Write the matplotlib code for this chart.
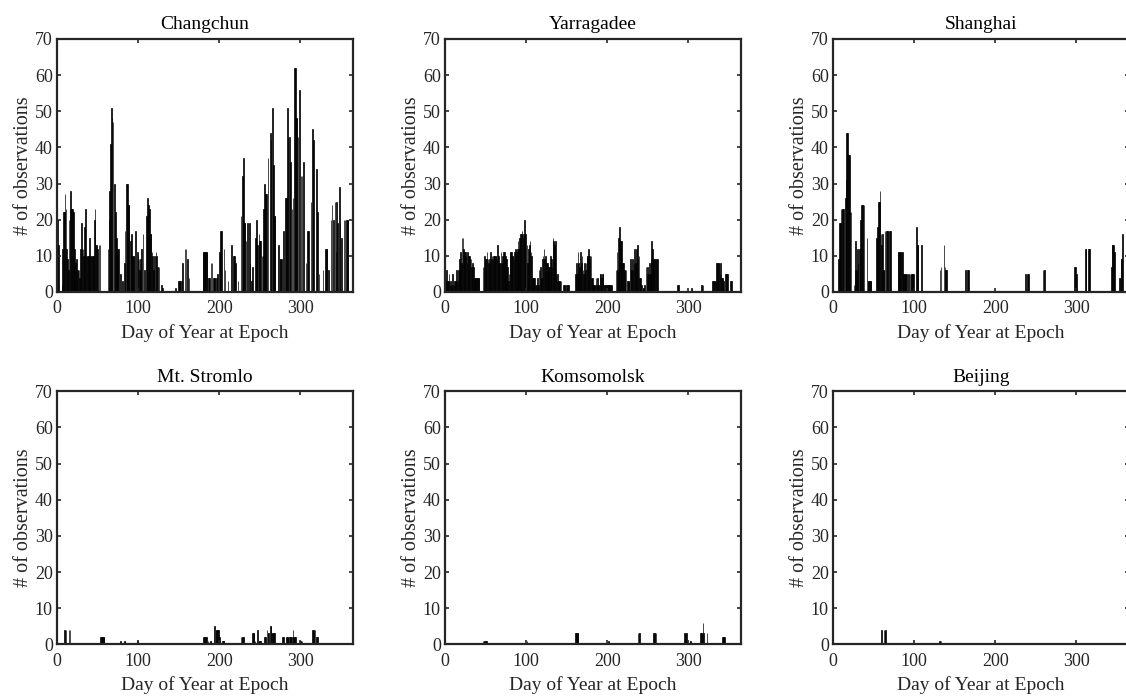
import matplotlib
matplotlib.use("Agg")
import matplotlib.pyplot as plt

plt.rcParams['font.family'] = ['Liberation Serif', 'DejaVu Serif']

# daily observation counts per station (day of year, count)
changchun_days = [1, 2, 6, 7, 8, 9, 10, 11, 12, 13, 14, 15, 16, 17, 18, 19, 20, 21, 22, 23, 24, 25, 26, 27, 28,
                  29, 30, 31, 32, 33, 34, 35, 36, 37, 38, 39, 40, 41, 42, 43, 44, 45, 46, 47, 48, 49, 50, 52, 53,
                  63, 64, 65, 66, 67, 68, 69, 71, 72, 73, 74, 75, 76, 78, 81, 83, 84, 86, 87, 88, 89, 91, 92, 93,
                  94, 95, 97, 99, 100, 101, 102, 103, 104, 106, 108, 110, 112, 113, 114, 115, 116, 117, 118, 119,
                  120, 122, 123, 124, 126, 129, 130, 146, 150, 151, 152, 154, 155, 158, 159, 161, 163,
                  180, 181, 182, 183, 184, 185, 187, 188, 190, 191, 193, 194, 195, 197, 198, 200, 202, 203, 206,
                  207, 211, 215, 218, 219, 220, 223, 227, 229, 230, 231, 232, 233, 235, 237, 238, 240, 241, 245,
                  246, 247, 249, 250, 251, 253, 254, 255, 256, 257, 258, 260, 263, 264, 266, 267, 268, 269, 273,
                  275, 276, 277, 279, 282, 283, 284, 285, 287, 288, 290, 291, 293, 294, 295, 296, 297, 299, 301,
                  302, 304, 307, 309, 310, 313, 315, 316, 320, 321, 323, 328, 331, 332, 333, 335, 338, 339, 341,
                  343, 344, 345, 346, 348, 349, 351, 354, 355, 357, 358, 359]
changchun_obs = [20, 13, 2, 12, 22, 22, 27, 23, 12, 9, 6, 20, 23, 28, 23, 23, 22, 9, 12, 8, 9, 6, 6, 6, 4,
                 12, 19, 12, 12, 10, 18, 23, 10, 10, 10, 10, 15, 10, 10, 10, 10, 10, 20, 23, 13, 13, 12, 13, 13,
                 12, 20, 28, 41, 51, 48, 47, 30, 22, 15, 12, 12, 12, 5, 3, 8, 17, 30, 30, 24, 24, 14, 16, 10,
                 10, 10, 17, 11, 10, 9, 6, 9, 12, 16, 6, 21, 26, 24, 23, 16, 16, 11, 10, 6,
                 10, 11, 10, 7, 7, 2, 1, 1, 3, 3, 3, 3, 8, 12, 12, 9, 4,
                 11, 11, 11, 11, 11, 11, 4, 4, 8, 8, 4, 4, 4, 4, 5, 11, 17, 17, 12,
                 6, 3, 13, 10, 10, 8, 3, 21, 32, 37, 19, 19, 14, 19, 19, 8, 3, 7, 15,
                 20, 13, 16, 14, 14, 10, 10, 23, 30, 27, 27, 37, 44, 42, 51, 35, 21, 21, 13,
                 9, 9, 9, 17, 26, 26, 51, 43, 43, 36, 23, 26, 62, 62, 48, 48, 43, 56, 32,
                 32, 36, 8, 17, 17, 25, 45, 42, 34, 22, 5, 6, 12, 12, 12, 6, 20, 24, 20,
                 25, 11, 25, 19, 29, 19, 15, 20, 20, 20, 20, 20]

yarragadee_days = [1, 2, 3, 4, 5, 6, 7, 8, 9, 10, 11, 12, 13, 14, 15, 16, 17, 18, 19, 20, 21, 22, 23, 24, 25,
                   26, 27, 28, 29, 30, 31, 32, 33, 34, 35, 36, 37, 38, 39, 40, 41, 42,
                   47, 48, 49, 50, 51, 52, 53, 54, 55, 56, 57, 58, 59, 60, 61, 62, 63, 64, 65, 66, 67, 68, 69,
                   70, 71, 72, 73, 74, 75, 76, 77, 78, 79, 80, 81, 82, 83, 84, 85, 86, 87, 88, 89, 90, 91, 92,
                   93, 94, 95, 96, 97, 98, 99, 100, 101, 102, 103, 104, 105, 106, 107, 108, 109, 110, 111, 112,
                   113, 114, 115, 116, 117, 118, 119, 120, 121, 122, 123, 124, 125, 126, 127, 128, 129, 130, 131,
                   132, 133, 134, 135, 136, 137, 138, 139, 140, 141, 142, 143, 146, 147, 148, 150, 151, 152,
                   161, 162, 163, 164, 165, 166, 167, 168, 169, 170, 171, 172, 173, 174, 175, 176, 177, 178, 179,
                   180, 181, 182, 183, 184, 185, 186, 187, 188, 189, 190, 191, 192, 193, 194, 195, 196, 197, 198,
                   199, 200, 201, 202, 203, 204, 205, 211, 212, 213, 214, 215, 216, 217, 218, 219, 220, 221, 222,
                   223, 225, 226, 227, 229, 230, 231, 232, 233, 234, 235, 236, 237, 238, 239, 240, 241, 242, 244,
                   245, 246, 248, 249, 250, 251, 252, 253, 254, 255, 256, 257, 258, 259, 260, 261, 262,
                   287, 288, 304, 316, 317, 318, 330, 331, 332, 333, 334, 335, 336, 337, 338, 339, 340, 341, 342,
                   343, 346, 347, 348, 352, 353]
yarragadee_obs = [3, 6, 3, 3, 5, 2, 3, 2, 5, 2, 2, 3, 3, 6, 3, 3, 6, 9, 11, 8, 15, 15, 12, 11, 11,
                  10, 8, 11, 10, 10, 9, 9, 7, 8, 7, 4, 4, 4, 4, 4, 4, 4,
                  7, 7, 10, 9, 9, 11, 9, 8, 9, 11, 9, 10, 9, 10, 10, 10, 10, 9, 13, 10, 8, 8, 11,
                  8, 10, 11, 11, 9, 10, 9, 7, 3, 5, 11, 11, 11, 10, 10, 9, 11, 12, 11, 12, 14, 12, 15,
                  16, 16, 17, 15, 16, 20, 16, 1, 13, 8, 12, 13, 14, 11, 10, 4, 4, 4, 2, 2,
                  2, 4, 2, 6, 6, 7, 4, 9, 10, 12, 9, 10, 8, 8, 5, 7, 7, 10, 9,
                  7, 15, 14, 13, 14, 5, 3, 5, 3, 3, 3, 3, 2, 2, 2, 2, 2, 2,
                  5, 8, 5, 11, 8, 7, 11, 8, 10, 6, 5, 8, 6, 8, 10, 10, 12, 10, 9,
                  10, 4, 4, 2, 2, 2, 4, 2, 4, 2, 2, 5, 5, 4, 5, 5, 2, 2, 2,
                  2, 2, 2, 2, 2, 2, 2, 6, 11, 6, 15, 18, 14, 14, 14, 8, 8, 6, 6,
                  6, 3, 3, 3, 9, 6, 9, 6, 8, 12, 8, 12, 13, 9, 10, 4, 4, 2, 1,
                  1, 2, 7, 5, 7, 5, 8, 5, 9, 14, 12, 9, 9, 9, 9, 9, 9,
                  2, 2, 1, 2, 2, 2, 3, 3, 3, 3, 3, 8, 8, 8, 8, 5, 8, 4, 4,
                  3, 5, 5, 5, 3, 3]

shanghai_days = [7, 8, 9, 10, 11, 12, 13, 15, 16, 17, 18, 19, 20, 21, 22, 26, 27, 28, 29, 30, 31, 33, 34, 35,
                 36, 37, 38, 42, 43, 44, 45, 46, 47, 54, 55, 56, 57, 58, 59, 60, 61, 62, 63, 64, 66, 67, 68,
                 70, 71, 80, 81, 82, 83, 84, 85, 86, 87, 88, 89, 91, 93, 95, 96, 97, 98, 99, 103, 104, 105,
                 109, 132, 133, 137, 138, 139, 140, 163, 166, 167, 237, 240, 241, 259, 260, 261, 298, 299, 300,
                 301, 311, 312, 315, 316, 343, 344, 345, 346, 347, 353, 354, 355, 356, 357]
shanghai_obs = [9, 19, 19, 23, 23, 23, 23, 26, 31, 44, 44, 38, 38, 22, 22, 2, 6, 14, 6, 12, 8, 12, 20, 24,
                24, 24, 24, 15, 3, 3, 3, 3, 3, 15, 18, 25, 25, 28, 16, 13, 16, 6, 6, 17, 17, 17, 17,
                17, 17, 11, 11, 11, 11, 11, 11, 11, 5, 5, 5, 5, 5, 5, 5, 5, 5, 5, 18, 13, 13,
                13, 6, 7, 13, 7, 6, 6, 6, 6, 6, 5, 5, 5, 6, 6, 6, 7, 7, 5,
                1, 12, 12, 12, 12, 7, 13, 13, 13, 11, 4, 4, 9, 9, 16]

stromlo_days = [9, 10, 11, 15, 16, 54, 55, 56, 57, 58, 78, 83, 84, 99, 100, 181, 182, 183, 184, 186, 189, 190,
                194, 196, 197, 198, 199, 200, 201, 204, 205, 206, 227, 228, 229, 230, 241, 242, 243, 244, 247,
                249, 250, 251, 256, 257, 259, 260, 261, 263, 264, 265, 266, 267, 268, 278, 279, 283, 284, 285,
                287, 288, 289, 291, 292, 293, 294, 300, 301, 302, 315, 316, 317, 318, 320, 321]
stromlo_obs = [4, 4, 4, 4, 4, 2, 2, 2, 2, 2, 1, 1, 1, 1, 1, 2, 2, 2, 2, 1, 1, 1,
               5, 4, 4, 4, 4, 2, 1, 1, 1, 1, 2, 2, 2, 2, 3, 3, 3, 1, 4,
               1, 1, 1, 2, 2, 4, 3, 3, 5, 5, 3, 3, 3, 3, 2, 2, 2, 2, 2,
               2, 2, 2, 4, 2, 2, 2, 1, 1, 1, 4, 4, 4, 4, 2, 2]

komsomolsk_days = [47, 48, 49, 50, 51, 101, 161, 162, 163, 164, 202, 238, 239, 240, 257, 258, 259, 260,
                   295, 296, 297, 298, 302, 303, 315, 316, 317, 318, 319, 323, 342, 343, 344, 345]
komsomolsk_obs = [1, 1, 1, 1, 1, 1, 3, 3, 3, 3, 1, 3, 3, 3, 3, 3, 3, 3,
                  3, 3, 3, 3, 1, 1, 3, 3, 3, 6, 3, 3, 2, 2, 2, 2]

beijing_days = [60, 63, 64, 65, 131, 132, 133]
beijing_obs = [4, 4, 4, 4, 1, 1, 1]

stations = ['Changchun', 'Yarragadee', 'Shanghai', 'Mt. Stromlo', 'Komsomolsk', 'Beijing']
all_days = [changchun_days, yarragadee_days, shanghai_days, stromlo_days, komsomolsk_days, beijing_days]
all_obs = [changchun_obs, yarragadee_obs, shanghai_obs, stromlo_obs, komsomolsk_obs, beijing_obs]

dark = '#262626'
fig = plt.figure(figsize=(11.26, 6.98), dpi=100)

lefts = [0.0506, 0.3952, 0.7398]
bottoms = [0.5817, 0.0769]
w, h = 0.2629, 0.3625

for i, name in enumerate(stations):
    row, col = divmod(i, 3)
    ax = fig.add_axes([lefts[col], bottoms[row], w, h])
    ax.bar(all_days[i], all_obs[i], width=0.8, color='k', edgecolor='k', linewidth=0.5)
    ax.set_xlim(0, 365)
    ax.set_ylim(0, 70)
    ax.set_xticks([0, 100, 200, 300])
    ax.set_yticks(range(0, 71, 10))
    for s in ax.spines.values():
        s.set_linewidth(1.6)
        s.set_color(dark)
    ax.tick_params(direction='in', top=True, right=True, length=3, width=1.2,
                   labelsize=13, colors=dark, pad=3)
    ax.tick_params(axis='x', pad=6)
    ax.set_title(name, fontsize=14, color='k', pad=7)
    ax.set_xlabel('Day of Year at Epoch', fontsize=14, color=dark, labelpad=5)
    ax.set_ylabel('# of observations', fontsize=14.5, color=dark, labelpad=1)

fig.savefig('out.png', dpi=100)
